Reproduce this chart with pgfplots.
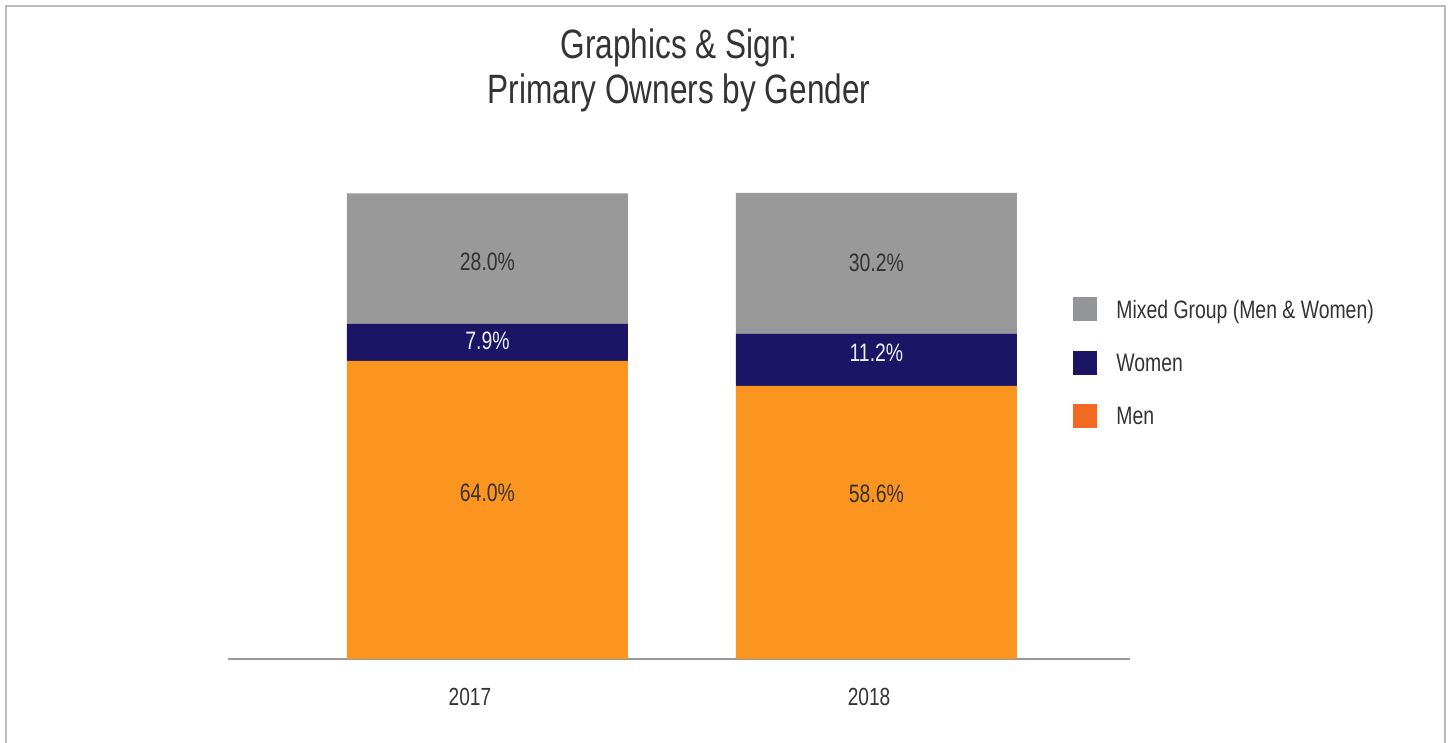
\documentclass[border=0pt]{standalone}
\usepackage{fontspec}
\setmainfont{Liberation Sans}[FakeStretch=0.77]
\usepackage{pgfplots}
\pgfplotsset{compat=1.18}

\definecolor{barorange}{HTML}{FC9420}
\definecolor{barnavy}{HTML}{1C1464}
\definecolor{bargray}{HTML}{999999}
\definecolor{legorange}{HTML}{F26922}
\definecolor{leggray}{HTML}{939598}
\definecolor{txt}{HTML}{333333}
\definecolor{framegray}{HTML}{BBBBBB}
\definecolor{lbl}{HTML}{EEEEF4}

\begin{document}
\begin{tikzpicture}
% page = 1449 x 743 px at 0.5pt per px
\path[use as bounding box] (0,0) rectangle (724.5pt,371.5pt);
\draw[framegray, line width=1pt] (3pt,0) -- (3pt,368.5pt) -- (722.5pt,368.5pt) -- (722.5pt,0);

\node[anchor=base, font=\fontsize{20.5}{24}\selectfont, text=txt] at (339.5pt,342pt) {Graphics \& Sign:};
\node[anchor=base, font=\fontsize{20.5}{24}\selectfont, text=txt] at (339.5pt,319.5pt) {Primary Owners by Gender};

\begin{axis}[
    at={(114pt,42pt)}, anchor=south west,
    scale only axis, width=451pt, height=233pt,
    ybar stacked, bar width=0.7224,
    xmin=-0.667, xmax=1.652, ymin=0, ymax=100,
    enlargelimits=false,
    axis x line*=bottom, axis y line=none,
    axis line style={-, draw=bargray, line width=0.8pt},
    xtick={-0.045,0.981}, xticklabels={2017,2018},
    major tick length=0pt,
    xticklabel style={anchor=center, yshift=-19pt, font=\fontsize{12.4}{14}\selectfont, text=txt},
    legend style={at={(0.9368,0.7768)}, anchor=north west, draw=none, fill=none,
        inner sep=0pt, row sep=14.75pt, column sep=9.5pt,
        nodes={inner sep=0pt, yshift=4pt}, font=\fontsize{12.6}{14}\selectfont, text=txt},
    legend cell align=left,
    legend image code/.code={\fill[#1, draw=none] (0pt,-1.5pt) rectangle (12pt,10.5pt);},
]
\addlegendimage{fill=leggray, draw=none}
\addlegendentry{Mixed Group (Men \& Women)}
\addlegendimage{fill=barnavy, draw=none}
\addlegendentry{Women}
\addlegendimage{fill=legorange, draw=none}
\addlegendentry{Men}

\addplot[fill=barorange, draw=none] coordinates {(0,64.0) (1,58.6)};
\addplot[fill=barnavy, draw=none] coordinates {(0,7.9) (1,11.2)};
\addplot[fill=bargray, draw=none] coordinates {(0,28.0) (1,30.2)};

% label positions (segment centres), drawn after the axis so they sit on top
\coordinate (l1) at (axis cs:0,85.2);
\coordinate (l2) at (axis cs:0,68.2);
\coordinate (l3) at (axis cs:0,35.6);
\coordinate (l4) at (axis cs:1,85.0);
\coordinate (l5) at (axis cs:1,65.7);
\coordinate (l6) at (axis cs:1,35.4);
\end{axis}

\begin{scope}[font=\fontsize{12.6}{14}\selectfont]
\node[text=txt] at (l1) {28.0\%};
\node[text=lbl] at (l2) {7.9\%};
\node[text=txt] at (l3) {64.0\%};
\node[text=txt] at (l4) {30.2\%};
\node[text=lbl] at (l5) {11.2\%};
\node[text=txt] at (l6) {58.6\%};
\end{scope}
\end{tikzpicture}
\end{document}
